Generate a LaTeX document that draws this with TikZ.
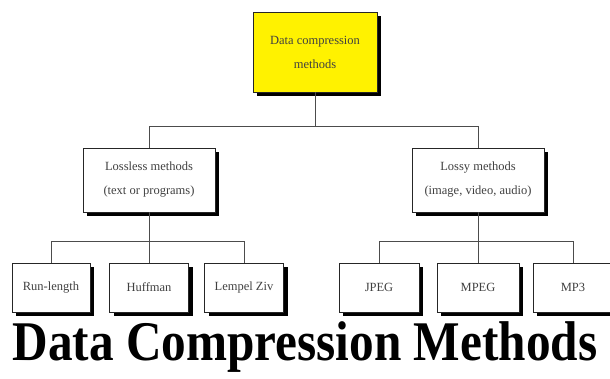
\documentclass[tikz,border=0pt]{standalone}
\usepackage{fontspec}
\setmainfont{Liberation Serif}
\usetikzlibrary{shadows}
\begin{document}
\begin{tikzpicture}[x=1pt,y=-1pt,
  tbox/.style={draw=black!85, line width=0.9pt, fill=white, text=black!75,
    align=center, inner sep=0pt,
    drop shadow={shadow xshift=4pt, shadow yshift=-4pt, fill=black, opacity=1}},
  link/.style={draw=black!70, line width=1pt},
  small/.style={font=\fontsize{12.5}{24}\selectfont}]
\fill[white] (0,0) rectangle (610,379);
\useasboundingbox (0,0) rectangle (610,379);
% level 0
\node[tbox, fill=yellow, small, minimum width=124pt, minimum height=80pt] (top) at (315,52) {Data compression\\methods};
% level 1
\node[tbox, small, minimum width=132pt, minimum height=64pt] (lossless) at (149,180) {Lossless methods\\(text or programs)};
\node[tbox, small, minimum width=132pt, minimum height=64pt] (lossy) at (478,180) {Lossy methods\\(image, video, audio)};
% level 2
\node[tbox, small, minimum width=78pt, minimum height=49pt] (run) at (51,287.5) {Run-length};
\node[tbox, small, minimum width=79pt, minimum height=49pt] (huff) at (149,287.5) {Huffman};
\node[tbox, small, minimum width=79pt, minimum height=49pt] (lz) at (244,287.5) {Lempel Ziv};
\node[tbox, small, minimum width=80pt, minimum height=49pt] (jpeg) at (379,287.5) {JPEG};
\node[tbox, small, minimum width=82pt, minimum height=49pt] (mpeg) at (478,287.5) {MPEG};
\node[tbox, small, minimum width=80pt, minimum height=49pt] (mp3) at (573,287.5) {MP3};
% junctions
\coordinate (j1) at (315,127);
\coordinate (j2) at (149,242);
\coordinate (j3) at (478,242);
% connectors
\draw[link] (top.south) -- (j1);
\draw[link] (j1) -| (lossless.north);
\draw[link] (j1) -| (lossy.north);
\draw[link] (lossless.south) -- (huff.north);
\draw[link] (j2) -| (run.north);
\draw[link] (j2) -| (lz.north);
\draw[link] (lossy.south) -- (mpeg.north);
\draw[link] (j3) -| (jpeg.north);
\draw[link] (j3) -| (mp3.north);
% title
\node[anchor=base, inner sep=0pt] (title) at (305,360) {\scalebox{0.88}[1]{\fontsize{56}{56}\selectfont\bfseries Data Compression Methods}};
\end{tikzpicture}
\end{document}
